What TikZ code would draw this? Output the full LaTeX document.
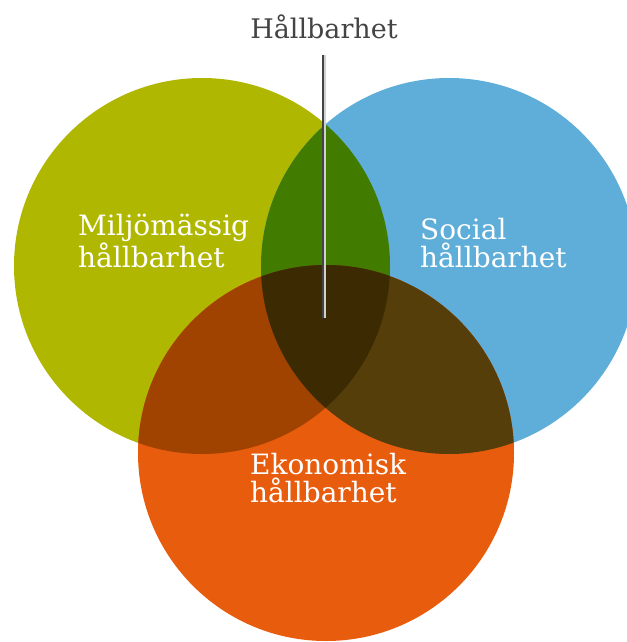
\documentclass[tikz,border=0pt]{standalone}
\usepackage{fontspec}
\setmainfont{DejaVu Serif}
\usepackage{tikz}
\usetikzlibrary{positioning}

\definecolor{miljo}{RGB}{176,183,0}
\definecolor{social}{RGB}{94,174,217}
\definecolor{ekonomi}{RGB}{232,92,13}
\definecolor{miljosocial}{RGB}{65,124,0}
\definecolor{miljoekonomi}{RGB}{160,66,0}
\definecolor{socialekonomi}{RGB}{86,62,11}
\definecolor{karna}{RGB}{60,43,2}
\definecolor{rubrik}{RGB}{68,68,68}

\begin{document}
\begin{tikzpicture}[x=1pt, y=-1pt,
        label_text/.style={font=\fontsize{28}{28}\selectfont, text=white, align=left, inner sep=0pt, anchor=base west},
        title_text/.style={font=\fontsize{27}{28}\selectfont, text=rubrik, inner sep=0pt, anchor=base},
        pin_dark/.style={draw=rubrik, line width=1.7pt},
        pin_light/.style={draw=black!18, line width=1.7pt}]

        \useasboundingbox (0,0) rectangle (626,642);

        % Circle centres
        \coordinate (miljo_c) at (202,266);
        \coordinate (social_c) at (449,266);
        \coordinate (ekonomi_c) at (326,453);
        \def\radie{188}

        % Circles
        \fill [miljo] (miljo_c) circle (\radie);
        \fill [social] (social_c) circle (\radie);
        \fill [ekonomi] (ekonomi_c) circle (\radie);

        % Overlaps
        \begin{scope}
            \clip (miljo_c) circle (\radie);
            \fill [miljosocial] (social_c) circle (\radie);
            \fill [miljoekonomi] (ekonomi_c) circle (\radie);
        \end{scope}
        \begin{scope}
            \clip (social_c) circle (\radie);
            \fill [socialekonomi] (ekonomi_c) circle (\radie);
        \end{scope}
        \begin{scope}
            \clip (miljo_c) circle (\radie);
            \clip (social_c) circle (\radie);
            \fill [karna] (ekonomi_c) circle (\radie);
        \end{scope}

        % Labels (anchored on the baseline of the last line)
        \node [title_text] (title) at (324,39) {Hållbarhet};
        \node [label_text] (miljo_label) at (78,267) {Miljömässig\\hållbarhet};
        \node [label_text] (social_label) at (420,267) {Social\\hållbarhet};
        \node [label_text] (ekonomi_label) at (250,502) {Ekonomisk\\hållbarhet};

        % Pointer into the centre
        \coordinate (pin_end) at (324,318);
        \draw [pin_dark] ([xshift=-0.8pt]title.south |- 0,55) -- ([xshift=-0.8pt]pin_end);
        \draw [pin_light] ([xshift=0.8pt]title.south |- 0,55) -- ([xshift=0.8pt]pin_end);
\end{tikzpicture}
\end{document}
